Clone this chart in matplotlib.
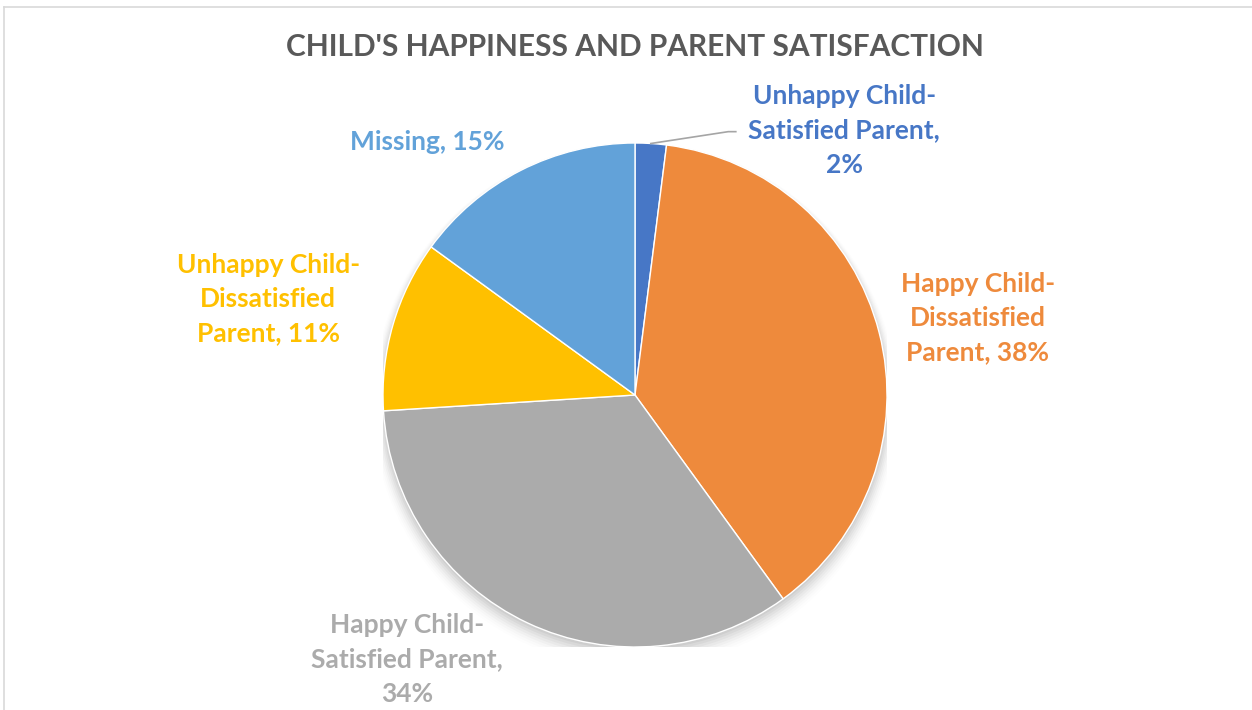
import matplotlib
matplotlib.use("Agg")
import matplotlib.pyplot as plt
from matplotlib.patches import Circle
import numpy as np

# Survey breakdown, clockwise from 12 o'clock
categories = [
    "Unhappy Child-\nSatisfied Parent,",
    "Happy Child-\nDissatisfied\nParent,",
    "Happy Child-\nSatisfied Parent,",
    "Unhappy Child-\nDissatisfied\nParent,",
    "Missing,",
]
shares = [2, 38, 34, 11, 15]
colors = ["#4777C6", "#EE8A3C", "#ABABAB", "#FFC000", "#62A2D9"]
title = "CHILD'S HAPPINESS AND PARENT SATISFACTION"

# Label anchor positions (in pie radii) relative to the pie centre
label_xy = [(0.83, 1.05), (1.36, 0.305), (-0.905, -1.05), (-1.455, 0.38), (-0.825, 1.005)]
# percentage goes on its own line for these labels
pct_newline = [True, False, True, False, False]

W, H = 1252, 710
fig = plt.figure(figsize=(W / 100, H / 100), dpi=100)
fig.patch.set_facecolor("white")

# thin chart frame (top and left edges visible)
fig.add_artist(plt.Line2D([4 / W, 1.0], [1 - 7 / H, 1 - 7 / H], color="#D9D9D9", lw=1.2,
                          transform=fig.transFigure))
fig.add_artist(plt.Line2D([4 / W, 4 / W], [0, 1 - 7 / H], color="#D9D9D9", lw=1.2,
                          transform=fig.transFigure))

cx, cy, r = 635, 395, 252
ax = fig.add_axes([(cx - r) / W, (H - cy - r) / H, 2 * r / W, 2 * r / H])
ax.set_aspect("equal")
ax.axis("off")

# soft drop shadow
for i, a in enumerate(np.linspace(0.04, 0.008, 8)):
    ax.add_patch(Circle((0.0, -0.012 - 0.004 * i), 1.0 + 0.006 * i, color="black",
                        alpha=a, lw=0, zorder=0))

wedges, _ = ax.pie(shares, colors=colors, startangle=90, counterclock=False, radius=1.0,
                   wedgeprops=dict(edgecolor="white", linewidth=1.0),
                   center=(0, 0), frame=False)
for w in wedges:
    w.set_zorder(2)
ax.set_xlim(-1, 1)
ax.set_ylim(-1, 1)

font = "Lato"
for i, (lab, val) in enumerate(zip(categories, shares)):
    sep = "\n" if pct_newline[i] else " "
    txt = f"{lab}{sep}{val}%"
    x, y = label_xy[i]
    ax.text(x, y, txt, ha="center", va="center", color=colors[i], fontsize=19,
            fontweight="bold", family=font, linespacing=1.52, zorder=5, clip_on=False)

# leader line for the small slice
ang = np.deg2rad(90 - shares[0] / 100 * 360 / 2)
ax.plot([np.cos(ang) * 1.0, 0.37, 0.40], [np.sin(ang) * 1.0, 1.045, 1.045],
        color="#A5A5A5", lw=1.2, clip_on=False, zorder=4)

fig.text(cx / W, 1 - 47 / H, title, ha="center", va="center", fontsize=21.5,
         fontweight="bold", color="#595959", family=font)

fig.savefig("out.png", dpi=100, facecolor="white")
